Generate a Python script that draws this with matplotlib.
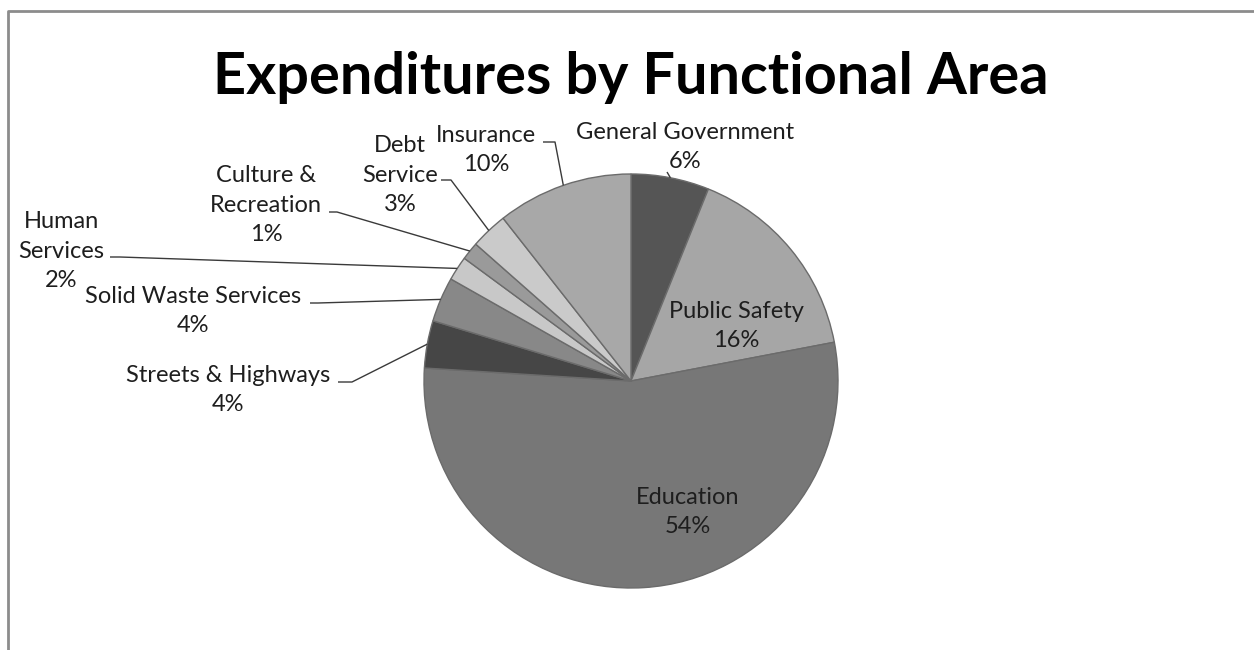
import matplotlib
matplotlib.use('Agg')
import matplotlib.pyplot as plt
import numpy as np
from matplotlib.lines import Line2D

# ---- data ----
categories = ["General Government", "Public Safety", "Education",
              "Streets & Highways", "Solid Waste Services", "Human Services",
              "Culture & Recreation", "Debt Service", "Insurance"]
values = [6.1, 15.9, 54.0, 3.7, 3.5, 1.9, 1.4, 2.9, 10.6]
pct_labels = ["6%", "16%", "54%", "4%", "4%", "2%", "1%", "3%", "10%"]
label_lines = ["General Government", "Public Safety", "Education",
               "Streets & Highways", "Solid Waste Services", "Human\nServices",
               "Culture &\nRecreation", "Debt\nService", "Insurance"]
title = "Expenditures by Functional Area"

# ---- style ----
colors = ["#555555", "#a6a6a6", "#777777", "#464646", "#888888",
          "#c8c8c8", "#9a9a9a", "#cacaca", "#a8a8a8"]
W, H = 1254, 650
FONT = "Lato"
cx, cy_px, R = 631, 381, 207
# label block centers (pixel coords, y down)
label_pos = [(685, 147), (736, 326), (688, 512), (228, 390), (193, 311),
             (61, 251), (266, 205), (400, 175), (486, 150)]
# leader line start / elbow (None = no leader)
leaders = [((667, 172), None), None, None,
           ((338, 382), (352, 382)), ((310, 303), (318, 303)),
           ((110, 257), (120, 257)), ((329, 212), (337, 212)),
           ((441, 180), (451, 180)), ((543, 142), (555, 142))]

fig = plt.figure(figsize=(W / 100, H / 100), dpi=100)
ax = fig.add_axes([0, 0, 1, 1])


def fy(y):
    return H - y


wedges, _ = ax.pie(values, colors=colors, startangle=90, counterclock=False,
                   center=(cx, fy(cy_px)), radius=R, frame=True,
                   wedgeprops=dict(edgecolor="#6b6b6b", linewidth=1.0))
ax.set_xlim(0, W)
ax.set_ylim(0, H)
ax.axis('off')

for i, w in enumerate(wedges):
    txt = label_lines[i] + "\n" + pct_labels[i]
    x, y = label_pos[i]
    ax.text(x, fy(y), txt, ha='center', va='center', fontsize=17,
            family=FONT, color="#1e1e1e", linespacing=1.48)
    ld = leaders[i]
    if ld is not None:
        mid = np.deg2rad((w.theta1 + w.theta2) / 2)
        ex = cx + R * np.cos(mid)
        ey = fy(cy_px) + R * np.sin(mid)
        pts = [ld[0]] + ([ld[1]] if ld[1] is not None else [])
        xs = [p[0] for p in pts] + [ex]
        ys = [fy(p[1]) for p in pts] + [ey]
        ax.plot(xs, ys, color="#3a3a3a", linewidth=1.0, solid_capstyle='butt')

ax.text(631, fy(94), title, ha='center', va='baseline', fontsize=41.5,
        fontweight='bold', family=FONT, color="black")

# outer chart border (top and left visible)
fig.add_artist(Line2D([7.5 / W, 7.5 / W, 1.0], [0.0, 1 - 10.5 / H, 1 - 10.5 / H],
                      transform=fig.transFigure, color="#8c8c8c", linewidth=2))

fig.savefig("out.png", dpi=100, facecolor="white")
